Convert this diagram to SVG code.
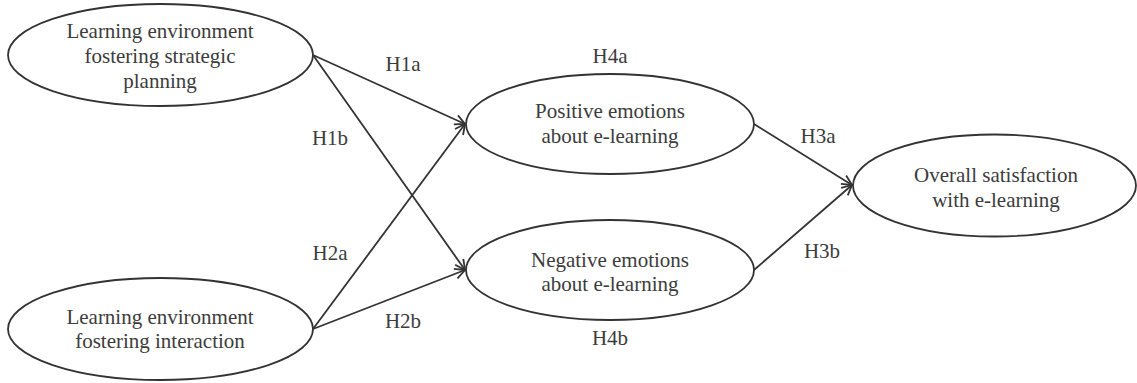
<svg xmlns="http://www.w3.org/2000/svg" width="1137" height="383" viewBox="0 0 1137 383">
<style>
.node ellipse{fill:#fff;stroke:#333;stroke-width:1.8}
text{font-family:"Liberation Serif","Times New Roman",serif;font-size:21px;fill:#3c3c3c;text-anchor:middle}
.edges line{stroke:#333;stroke-width:1.8;marker-end:url(#arr)}
</style>
<defs>
<marker id="arr" viewBox="0 0 12 12" refX="11" refY="6" markerWidth="12" markerHeight="12" markerUnits="userSpaceOnUse" orient="auto">
<path d="M1,1 L11,6 L1,11" fill="none" stroke="#333" stroke-width="1.8"/>
</marker>
</defs>
<rect width="1137" height="383" fill="#fff"/>
<g class="edges" id="connectors">
<line x1="313" y1="55" x2="465" y2="124"/>
<line x1="313" y1="55" x2="465" y2="270"/>
<line x1="313" y1="329" x2="465" y2="124"/>
<line x1="313" y1="329" x2="465" y2="270"/>
<line x1="754" y1="124" x2="852" y2="185"/>
<line x1="754" y1="270" x2="852" y2="185"/>
</g>
<g id="labels">
<text x="403" y="71">H1a</text>
<text x="330" y="145">H1b</text>
<text x="330" y="260">H2a</text>
<text x="403" y="328">H2b</text>
<text x="610" y="63">H4a</text>
<text x="610" y="345">H4b</text>
<text x="818" y="143">H3a</text>
<text x="822" y="258">H3b</text>
</g>
<g class="node" id="planning">
<ellipse cx="160.5" cy="55" rx="152.5" ry="51"/>
<text x="160" y="38">Learning environment</text>
<text x="160" y="63">fostering strategic</text>
<text x="160" y="88">planning</text>
</g>
<g class="node" id="interaction">
<ellipse cx="160.5" cy="329" rx="152.5" ry="51"/>
<text x="160" y="324">Learning environment</text>
<text x="160" y="348">fostering interaction</text>
</g>
<g class="node" id="positive">
<ellipse cx="610" cy="124" rx="144" ry="50"/>
<text x="610" y="118">Positive emotions</text>
<text x="610" y="143">about e-learning</text>
</g>
<g class="node" id="negative">
<ellipse cx="610" cy="270" rx="144" ry="50"/>
<text x="610" y="267">Negative emotions</text>
<text x="610" y="291">about e-learning</text>
</g>
<g class="node" id="satisfaction">
<ellipse cx="994.5" cy="185.5" rx="141.5" ry="51"/>
<text x="996" y="182">Overall satisfaction</text>
<text x="996" y="207">with e-learning</text>
</g>
</svg>
